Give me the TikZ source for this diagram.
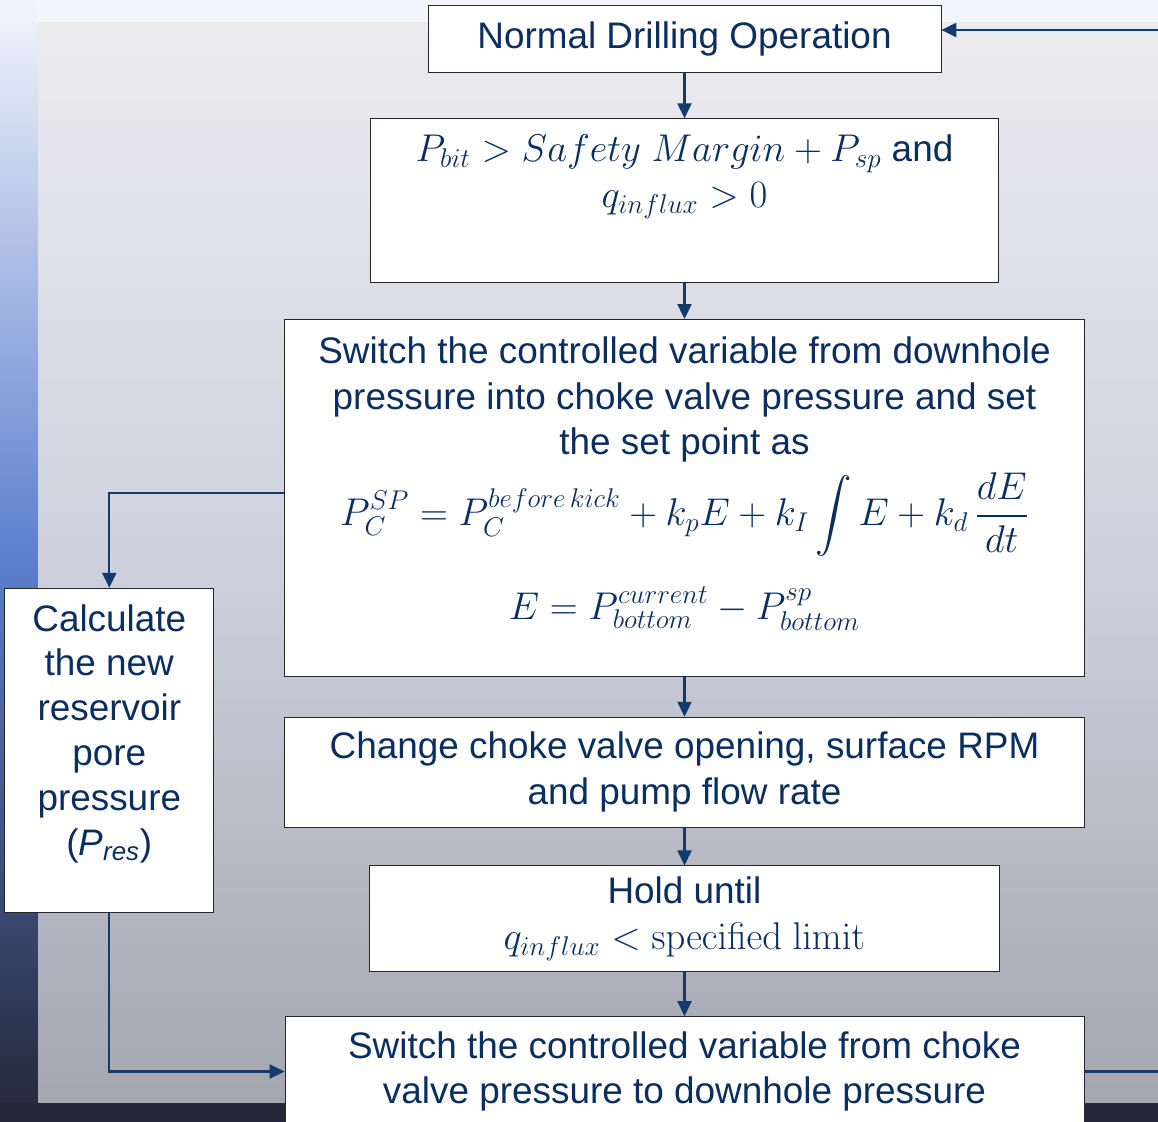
\RequirePackage{fix-cm}
\documentclass[tikz,border=0pt]{standalone}
\usepackage{amsmath}
\usepackage[no-math]{fontspec}
\setmainfont{Liberation Sans}
\usetikzlibrary{arrows.meta,positioning,calc}
\definecolor{textblue}{RGB}{10,46,96}
\definecolor{lineblue}{RGB}{18,58,108}
\definecolor{paneltop}{RGB}{236,236,239}
\definecolor{panelmid}{RGB}{206,208,222}
\definecolor{panelbot}{RGB}{164,167,176}
\definecolor{stripblue}{RGB}{92,126,204}
\definecolor{stripdark}{RGB}{36,40,56}
\newcommand{\mathbig}{\fontsize{22}{26}\selectfont}

\begin{document}
\begin{tikzpicture}[node distance=0.8cm,
  flowbox/.style={rectangle, draw=black!85, thin, fill=white, text=textblue,
    font=\fontsize{21}{26}\selectfont, align=center, inner sep=2pt},
  flowarrow/.style={draw=lineblue, line width=1.2pt,
    -{Triangle[length=3mm,width=2.8mm]}}]
\useasboundingbox (0,0) rectangle (23.16,-22.42);
% slide background
\fill[top color=white!92!stripblue, bottom color=stripdark, middle color=stripblue]
  (0,0) rectangle (23.16,-22.42);
\fill[white!92!stripblue] (0.76,0) rectangle (23.16,-0.44);
\fill[top color=paneltop, bottom color=panelbot, middle color=panelmid]
  (0.76,-0.44) rectangle (23.16,-22.06);
\fill[stripdark] (0,-22.06) rectangle (23.16,-22.42);

% main column
\node[flowbox, minimum width=10.26cm, minimum height=1.34cm] (normal) at (13.69,-0.77)
  {Normal Drilling Operation};
\node[flowbox, minimum width=12.56cm, minimum height=3.28cm, below=0.92cm of normal] (condition)
  {{\mathbig$P_{bit} > Safety\;Margin + P_{sp}$} and\\ {\mathbig$q_{influx} > 0$}\\ \strut};
\node[flowbox, minimum width=16cm, minimum height=7.14cm, below=0.72cm of condition] (switch)
  {Switch the controlled variable from downhole\\
   pressure into choke valve pressure and set\\
   the set point as\\[5pt]
   {\mathbig$\displaystyle P_C^{SP} = P_C^{before\,kick} + k_pE + k_I\int E + k_d\,\frac{dE}{dt}$}\\[16pt]
   {\mathbig$\displaystyle E = P_{bottom}^{current} - P_{bottom}^{sp}$}\\[-11pt] \strut};
\node[flowbox, minimum width=16cm, minimum height=2.2cm, below=0.8cm of switch] (change)
  {Change choke valve opening, surface RPM\\ and pump flow rate};
\node[flowbox, minimum width=12.6cm, minimum height=2.12cm, below=0.76cm of change] (hold)
  {Hold until\\ {\mathbig$q_{influx} < \mathrm{specified\ limit}$}};
\node[flowbox, minimum width=15.98cm, minimum height=2.2cm, below=0.88cm of hold] (back)
  {Switch the controlled variable from choke\\ valve pressure to downhole pressure};

% side box
\node[flowbox, minimum width=4.18cm, minimum height=6.48cm, left=1.4cm of change, yshift=0.44cm,
      font=\fontsize{21}{25.5}\selectfont] (calc)
  {Calculate\\ the new\\ reservoir\\ pore\\ pressure\\ (\textit{P}\textsubscript{\textit{res}})\\[-10pt] \strut};
\coordinate (loopright) at (23.6,0);
\coordinate (normalin) at ([yshift=0.17cm]normal.east);

% connectors
\draw[flowarrow] (normal) -- (condition);
\draw[flowarrow] (condition) -- (switch);
\draw[flowarrow] (switch) -- (change);
\draw[flowarrow] (change) -- (hold);
\draw[flowarrow] (hold) -- (back);
\draw[flowarrow] ([yshift=0.09cm]switch.west) -| (calc.north);
\draw[flowarrow] (calc.south) |- (back.west);
\draw[flowarrow] (back.east) -- (loopright |- back.east)
  -- (loopright |- normalin) -- (normalin);
\end{tikzpicture}
\end{document}
